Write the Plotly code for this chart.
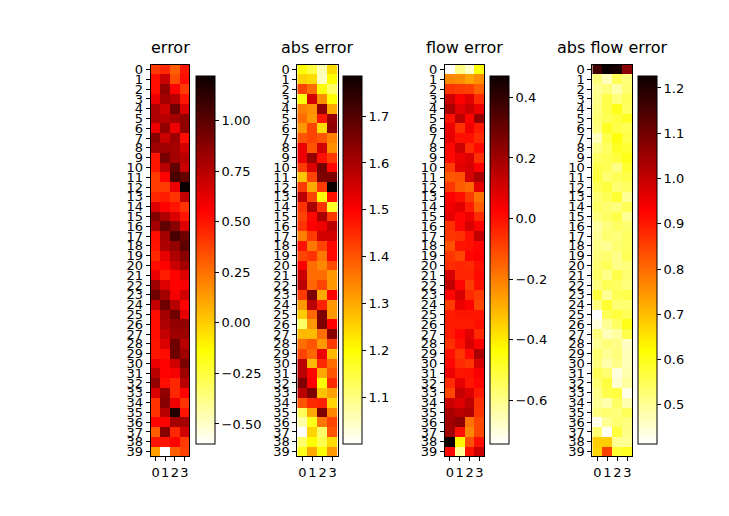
import plotly.graph_objects as go

# ---------------------------------------------------------------------------
# Data (40 rows x 4 columns per panel)
# ---------------------------------------------------------------------------
rows = list(range(40))
cols = [0, 1, 2, 3]

err = [
    [0.40, 0.45, 0.30, 0.50], [0.52, 0.70, 0.35, 0.52], [0.52, 0.85, 0.55, 0.40],
    [0.60, 0.80, 0.75, 0.50], [0.78, 0.68, 0.95, 0.65], [0.78, 0.75, 0.80, 0.85],
    [0.60, 0.85, 0.60, 0.85], [0.88, 0.70, 0.82, 0.52], [0.82, 0.82, 0.80, 0.68],
    [0.50, 0.92, 0.80, 0.75], [0.50, 0.75, 0.98, 0.70], [0.40, 0.55, 1.05, 0.98],
    [0.40, 0.40, 0.60, 1.22], [0.45, 0.48, 0.42, 0.72], [0.65, 0.55, 0.50, 0.42],
    [0.90, 0.78, 0.65, 0.50], [0.80, 0.98, 0.88, 0.65], [0.52, 0.80, 1.05, 0.95],
    [0.50, 0.78, 0.85, 1.00], [0.45, 0.62, 0.78, 0.88], [0.52, 0.55, 0.70, 0.80],
    [0.60, 0.48, 0.55, 0.65], [0.82, 0.65, 0.55, 0.58], [0.95, 0.80, 0.58, 0.68],
    [0.72, 0.95, 0.75, 0.55], [0.52, 0.80, 0.95, 0.62], [0.52, 0.78, 0.85, 0.85],
    [0.52, 0.72, 0.82, 0.82], [0.50, 0.65, 0.95, 0.75], [0.50, 0.52, 0.95, 0.82],
    [0.60, 0.55, 0.68, 0.92], [0.75, 0.55, 0.58, 0.82], [0.85, 0.52, 0.45, 0.75],
    [0.65, 0.85, 0.45, 0.55], [0.42, 0.88, 0.60, 0.42], [0.42, 0.75, 1.15, 0.50],
    [0.55, 0.55, 0.80, 0.80], [0.30, 0.88, 0.45, 0.68], [0.50, 0.50, 0.55, 0.40],
    [0.12, -0.60, 0.30, 0.38],
]

abs_err = [
    [1.20, 1.15, 1.06, 1.24], [1.25, 1.24, 1.05, 1.20], [1.42, 1.37, 1.20, 1.12],
    [1.19, 1.55, 1.33, 1.20], [1.35, 1.33, 1.63, 1.30], [1.37, 1.32, 1.47, 1.62],
    [1.32, 1.42, 1.24, 1.63], [1.40, 1.42, 1.40, 1.35], [1.52, 1.40, 1.55, 1.33],
    [1.52, 1.62, 1.48, 1.43], [1.43, 1.54, 1.66, 1.49], [1.27, 1.42, 1.65, 1.65],
    [1.43, 1.30, 1.43, 1.785], [1.58, 1.42, 1.20, 1.48], [1.44, 1.60, 1.44, 1.17],
    [1.42, 1.49, 1.60, 1.43], [1.44, 1.50, 1.52, 1.58], [1.35, 1.43, 1.55, 1.55],
    [1.48, 1.36, 1.42, 1.49], [1.42, 1.44, 1.36, 1.49], [1.50, 1.37, 1.34, 1.41],
    [1.56, 1.37, 1.37, 1.32], [1.58, 1.38, 1.42, 1.32], [1.43, 1.65, 1.30, 1.50],
    [1.32, 1.58, 1.46, 1.32], [1.26, 1.38, 1.65, 1.32], [1.12, 1.32, 1.65, 1.50],
    [1.28, 1.28, 1.37, 1.64], [1.37, 1.40, 1.32, 1.43], [1.42, 1.38, 1.52, 1.28],
    [1.58, 1.28, 1.45, 1.37], [1.58, 1.49, 1.30, 1.40], [1.65, 1.50, 1.20, 1.45],
    [1.58, 1.65, 1.27, 1.31], [1.40, 1.45, 1.46, 1.25], [1.13, 1.30, 1.65, 1.34],
    [1.07, 1.18, 1.36, 1.42], [1.00, 1.25, 1.12, 1.40], [1.12, 1.20, 1.14, 1.24],
    [1.18, 1.30, 1.20, 1.32],
]

flow_err = [
    [-0.745, -0.60, -0.68, -0.44], [-0.22, -0.23, -0.27, -0.23], [-0.07, -0.08, -0.09, -0.15],
    [0.12, 0.03, 0.08, -0.05], [0.18, 0.08, 0.12, 0.06], [0.00, 0.15, 0.02, 0.22],
    [0.06, -0.06, 0.05, -0.02], [0.07, 0.00, 0.00, -0.05], [0.02, 0.12, -0.05, 0.01],
    [0.01, 0.06, 0.09, -0.06], [-0.08, 0.08, 0.10, 0.03], [-0.13, -0.12, 0.10, 0.18],
    [-0.07, -0.14, -0.16, 0.07], [0.03, 0.00, -0.08, -0.18], [0.05, 0.08, -0.02, -0.14],
    [0.07, 0.02, 0.06, -0.05], [-0.06, 0.02, 0.10, 0.03], [-0.07, -0.06, 0.00, 0.14],
    [-0.12, -0.01, 0.00, 0.02], [-0.07, -0.10, 0.02, 0.03], [-0.05, -0.04, -0.05, 0.00],
    [0.10, -0.04, -0.04, 0.01], [0.14, 0.02, -0.08, 0.00], [0.02, 0.10, -0.05, -0.08],
    [-0.08, 0.06, 0.03, -0.10], [-0.02, -0.01, -0.01, -0.01], [-0.02, -0.02, -0.02, 0.00],
    [-0.02, 0.02, 0.08, -0.05], [-0.06, 0.00, 0.10, 0.03], [0.00, -0.07, 0.01, 0.18],
    [0.02, -0.05, -0.07, 0.10], [0.06, -0.01, 0.00, 0.04], [-0.05, 0.07, -0.01, 0.02],
    [-0.10, 0.13, 0.09, -0.02], [0.12, 0.09, 0.15, -0.06], [0.18, 0.15, 0.17, -0.07],
    [0.20, 0.23, -0.18, -0.10], [0.20, 0.00, -0.22, -0.10], [0.47, -0.42, -0.12, 0.00],
    [0.02, -0.62, 0.00, 0.12],
]

abs_flow_err = [
    [1.16, 1.226, 1.21, 1.07], [0.52, 0.47, 0.55, 0.52], [0.50, 0.52, 0.48, 0.53],
    [0.51, 0.56, 0.52, 0.55], [0.52, 0.56, 0.60, 0.54], [0.53, 0.55, 0.57, 0.59],
    [0.52, 0.59, 0.56, 0.55], [0.47, 0.56, 0.61, 0.56], [0.51, 0.54, 0.59, 0.58],
    [0.54, 0.55, 0.57, 0.60], [0.56, 0.55, 0.51, 0.58], [0.57, 0.53, 0.55, 0.56],
    [0.55, 0.57, 0.53, 0.54], [0.53, 0.55, 0.58, 0.50], [0.54, 0.53, 0.52, 0.55],
    [0.52, 0.54, 0.56, 0.50], [0.49, 0.52, 0.54, 0.53], [0.50, 0.53, 0.52, 0.54],
    [0.51, 0.50, 0.53, 0.54], [0.52, 0.53, 0.51, 0.55], [0.53, 0.55, 0.51, 0.52],
    [0.54, 0.51, 0.56, 0.53], [0.52, 0.55, 0.54, 0.52], [0.57, 0.50, 0.55, 0.56],
    [0.52, 0.58, 0.53, 0.53], [0.413, 0.55, 0.57, 0.55], [0.44, 0.50, 0.54, 0.60],
    [0.52, 0.47, 0.49, 0.56], [0.50, 0.52, 0.51, 0.46], [0.53, 0.50, 0.52, 0.47],
    [0.52, 0.48, 0.51, 0.47], [0.55, 0.53, 0.44, 0.48], [0.53, 0.57, 0.45, 0.49],
    [0.51, 0.56, 0.57, 0.43], [0.50, 0.48, 0.54, 0.48], [0.52, 0.53, 0.52, 0.55],
    [0.43, 0.50, 0.53, 0.52], [0.53, 0.42, 0.57, 0.51], [0.68, 0.68, 0.50, 0.50],
    [0.67, 0.85, 0.58, 0.59],
]

titles = ["error", "abs error", "flow error", "abs flow error"]
cbar_ticks = [
    [-0.5, -0.25, 0.0, 0.25, 0.5, 0.75, 1.0],
    [1.1, 1.2, 1.3, 1.4, 1.5, 1.6, 1.7],
    [-0.6, -0.4, -0.2, 0.0, 0.2, 0.4],
    [0.5, 0.6, 0.7, 0.8, 0.9, 1.0, 1.1, 1.2],
]
cbar_digits = [2, 1, 1, 1]

# matplotlib hot_r as a plotly colorscale
hot_r = [
    [0.0, "rgb(255,255,255)"],
    [0.253968, "rgb(255,255,0)"],
    [0.634921, "rgb(255,0,0)"],
    [1.0, "rgb(11,0,0)"],
]


def fmt(v, d):
    s = f"{v:.{d}f}"
    return s.replace("-", "\u2212")


# ---------------------------------------------------------------------------
# Layout in pixels -> paper coords (page body adds an 8px offset)
# ---------------------------------------------------------------------------
W, H = 729, 516
OFF = 8
ax_px = [(150.7, 189.3), (297.3, 337.7), (445.0, 484.3), (592.3, 632.3)]
cb_px = [196.0, 343.3, 490.0, 638.3]
top, bottom = 62.3, 458.7
cb_top, cb_bottom = 76.0, 444.3


def px(x):
    return (x - OFF) / W


def py(y):
    return 1 - (y - OFF) / H


font = dict(family="DejaVu Sans", size=13, color="black")

fig = go.Figure()
annotations = []
layout = {}

for i, z in enumerate([err, abs_err, flow_err, abs_flow_err]):
    n = "" if i == 0 else str(i + 1)
    fig.add_trace(go.Heatmap(
        z=z, x=cols, y=rows,
        colorscale=hot_r, zsmooth=False,
        xaxis="x" + n, yaxis="y" + n,
        colorbar=dict(
            x=px(cb_px[i]), xanchor="left", xpad=0, ypad=0,
            y=py((cb_top + cb_bottom) / 2), yanchor="middle",
            len=cb_bottom - cb_top, lenmode="pixels",
            thickness=19, thicknessmode="pixels",
            outlinewidth=1, outlinecolor="black",
            tickmode="array", tickvals=cbar_ticks[i],
            ticktext=[fmt(v, cbar_digits[i]) for v in cbar_ticks[i]],
            ticks="outside", ticklen=4, tickcolor="black",
            tickfont=font,
        ),
    ))
    x0, x1 = ax_px[i]
    layout["xaxis" + n] = dict(
        domain=[px(x0), px(x1)], anchor="y" + n, range=[-0.5, 3.5],
        tickvals=cols, tickangle=0, ticks="outside", ticklen=4, tickcolor="black",
        showline=True, linecolor="black", linewidth=1, mirror=True,
        showgrid=False, zeroline=False, tickfont=font, fixedrange=True,
    )
    layout["yaxis" + n] = dict(
        domain=[py(bottom), py(top)], anchor="x" + n, range=[39.5, -0.5],
        tickvals=rows, ticks="outside", ticklen=4, tickcolor="black",
        showline=True, linecolor="black", linewidth=1, mirror=True,
        showgrid=False, zeroline=False, tickfont=font, fixedrange=True,
    )
    annotations.append(dict(
        text=titles[i], xref="paper", yref="paper",
        x=px((x0 + x1) / 2), y=py(57), xanchor="center", yanchor="bottom",
        showarrow=False, font=dict(family="DejaVu Sans", size=16, color="black"),
    ))

fig.update_layout(
    width=W, height=H,
    margin=dict(l=0, r=0, t=0, b=0),
    paper_bgcolor="white", plot_bgcolor="white",
    font=font, showlegend=False,
    annotations=annotations,
    **layout,
)

fig.write_html("out.html")
